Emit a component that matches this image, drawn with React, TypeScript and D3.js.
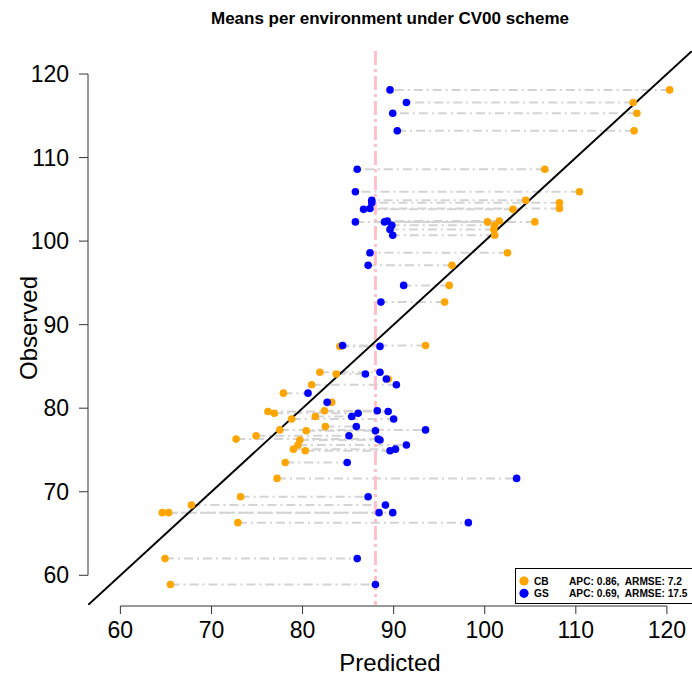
import React from "react";
import * as d3 from "d3";

const observed = [
  118.1, 116.6, 115.3, 113.2, 108.6, 105.9, 104.9, 104.6, 103.9, 103.8,
  102.3, 102.3, 102.4, 101.9, 101.4, 100.7, 98.6, 97.1, 94.7, 92.7,
  87.5, 87.4, 84.3, 84.1, 83.5, 82.8, 81.8, 80.7, 79.6, 79.7,
  79.4, 79.0, 78.7, 77.8, 77.4, 77.3, 76.7, 76.3, 76.2, 75.6,
  75.1, 74.9, 73.5, 71.6, 69.4, 68.4, 67.5, 67.5, 66.3, 62.0, 58.9,
];
const predCB = [
  120.3, 116.3, 116.7, 116.4, 106.6, 110.4, 104.5, 108.2, 108.2, 103.1,
  105.5, 100.3, 101.6, 101.1, 101.0, 101.1, 102.5, 96.4, 96.1, 95.6,
  93.5, 84.1, 81.9, 83.7, 89.4, 81.0, 77.9, 83.2, 76.2, 82.4,
  76.9, 81.4, 78.8, 82.5, 77.5, 80.4, 74.9, 72.7, 79.7, 79.5,
  79.0, 80.3, 78.1, 77.2, 73.2, 67.8, 64.6, 65.3, 72.9, 64.9, 65.5,
];
const predGS = [
  89.6, 91.4, 89.9, 90.4, 86.0, 85.8, 87.6, 87.6, 87.4, 86.7,
  85.8, 89.0, 89.3, 89.8, 89.6, 89.9, 87.4, 87.2, 91.1, 88.6,
  84.4, 88.5, 88.5, 86.9, 89.2, 90.3, 80.6, 82.7, 89.4, 88.2,
  86.1, 85.4, 90.0, 85.9, 93.5, 88.0, 85.1, 88.3, 88.5, 91.4,
  90.2, 89.6, 84.9, 103.5, 87.2, 89.1, 89.9, 88.4, 98.2, 86.0, 88.0,
];
const meanLine = 88.0;
const xTicks = [60, 70, 80, 90, 100, 110, 120];
const yTicks = [60, 70, 80, 90, 100, 110, 120];
const legendLabels = ["CB", "GS"];
const legendStats = ["APC: 0.86,  ARMSE: 7.2", "APC: 0.69,  ARMSE: 17.5"];
const colors = ["#FFA500", "#0000FF"];

const W = 692;
const H = 676;
const L = 88, R = 692, T = 51, B = 605;
const FONT = "'Liberation Sans', Arial, Helvetica, sans-serif";

export default function App() {
  const all = [...observed, ...predCB, ...predGS];
  const [mn, mx] = d3.extent(all) as [number, number];
  const ext = (mx - mn) * 0.04;
  const dom: [number, number] = [mn - ext, mx + ext];
  const x = d3.scaleLinear().domain(dom).range([L, R]);
  const y = d3.scaleLinear().domain(dom).range([B, T]);

  const rows = observed.map((o, i) => ({ o, cb: predCB[i], gs: predGS[i] }));
  const diag = d3.line<number>().x((v) => x(v)).y((v) => y(v));

  return (
    <svg width={W} height={H} style={{ position: "absolute", left: 0, top: 0, background: "#fff" }} fontFamily={FONT}>
      <defs>
        <clipPath id="plotclip">
          <rect x={L} y={T} width={R - L} height={B - T} />
        </clipPath>
      </defs>
      <text x={(L + R) / 2} y={24} textAnchor="middle" fontWeight="bold" fontSize={17}>
        Means per environment under CV00 scheme
      </text>
      <g clipPath="url(#plotclip)">
        {rows.map((r, i) => (
          <line key={"s" + i} x1={x(r.cb)} x2={x(r.gs)} y1={y(r.o)} y2={y(r.o)}
            stroke="#D3D3D3" strokeWidth={2} strokeDasharray="9,4,2,4" />
        ))}
        <line x1={x(meanLine)} x2={x(meanLine)} y1={T} y2={B} stroke="#FFC0CB" strokeWidth={3} strokeDasharray="14,4,3,4" />
        <path d={diag(dom) || ""} stroke="#000" strokeWidth={2} fill="none" />
        {rows.map((r, i) => (
          <circle key={"c" + i} cx={x(r.cb)} cy={y(r.o)} r={3.8} fill={colors[0]} />
        ))}
        {rows.map((r, i) => (
          <circle key={"g" + i} cx={x(r.gs)} cy={y(r.o)} r={3.8} fill={colors[1]} />
        ))}
      </g>
      {/* x axis */}
      <g>
        <line x1={x(xTicks[0])} x2={x(xTicks[xTicks.length - 1])} y1={B + 1} y2={B + 1} stroke="#333" strokeWidth={1} />
        {xTicks.map((t) => (
          <g key={"xt" + t}>
            <line x1={x(t)} x2={x(t)} y1={B + 1} y2={B + 9} stroke="#333" strokeWidth={1} />
            <text x={x(t)} y={638} textAnchor="middle" fontSize={23}>{t}</text>
          </g>
        ))}
        <text x={(L + R) / 2} y={671} textAnchor="middle" fontSize={24}>Predicted</text>
      </g>
      {/* y axis */}
      <g>
        <line x1={L} x2={L} y1={y(yTicks[0])} y2={y(yTicks[yTicks.length - 1])} stroke="#333" strokeWidth={1} />
        {yTicks.map((t) => (
          <g key={"yt" + t}>
            <line x1={L - 9} x2={L} y1={y(t)} y2={y(t)} stroke="#333" strokeWidth={1} />
            <text x={69} y={y(t) + 8.2} textAnchor="end" fontSize={23}>{t}</text>
          </g>
        ))}
        <text transform={`translate(37, ${(T + B) / 2}) rotate(-90)`} textAnchor="middle" fontSize={24}>Observed</text>
      </g>
      {/* legend */}
      <g>
        <rect x={515.5} y={568.5} width={180} height={35} fill="#fff" stroke="#000" strokeWidth={1} />
        {legendLabels.map((lab, i) => (
          <g key={lab}>
            <circle cx={524} cy={581 + i * 12.3} r={4.6} fill={colors[i]} />
            <text x={534} y={584.6 + i * 12.3} fontSize={10.2} fontWeight="bold">{lab}</text>
            <text x={569} y={584.6 + i * 12.3} fontSize={10.2} fontWeight="bold" style={{ whiteSpace: "pre" }}>{legendStats[i]}</text>
          </g>
        ))}
      </g>
    </svg>
  );
}
